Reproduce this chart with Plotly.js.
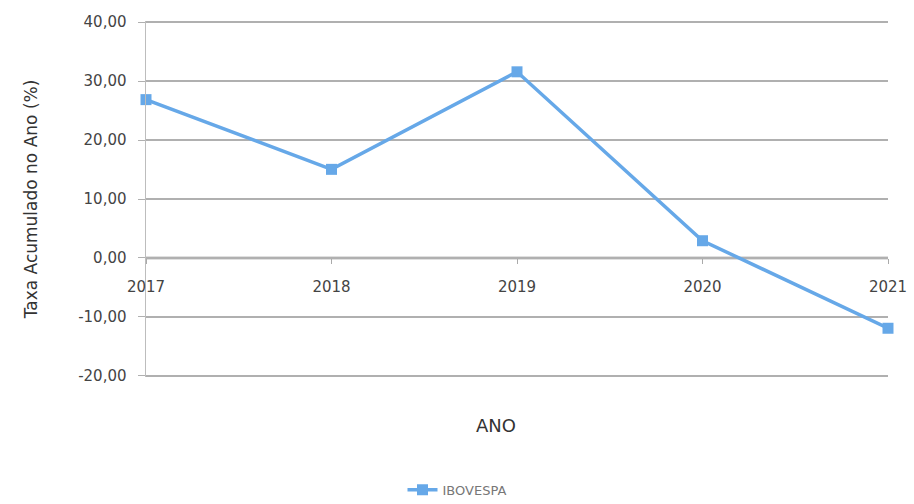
<!DOCTYPE html>
<html>
<head>
<meta charset="utf-8">
<script src="https://cdn.plot.ly/plotly-3.0.1.min.js"></script>
<style>
html,body{margin:0;padding:0;background:#fff;overflow:hidden;}
#chart{width:914px;height:504px;}
</style>
</head>
<body>
<div id="chart"></div>
<script>
const years = ['2017', '2018', '2019', '2020', '2021'];
const ibovespa = [26.86, 15.03, 31.58, 2.92, -11.93];
const yTickVals = [-20, -10, 0, 10, 20, 30, 40];
const yTickText = ['-20,00', '-10,00', '0,00', '10,00', '20,00', '30,00', '40,00'];
const seriesName = 'IBOVESPA';

const yRange = [-20.2, 40.2];
const zeroPos = (0 - yRange[0]) / (yRange[1] - yRange[0]);

const trace = {
  x: years,
  y: ibovespa,
  type: 'scatter',
  mode: 'lines+markers',
  name: seriesName,
  cliponaxis: false,
  line: {color: '#66a8e8', width: 3.5},
  marker: {symbol: 'square', size: 11, color: '#66a8e8'}
};

const layout = {
  width: 914,
  height: 504,
  margin: {l: 146, r: 26, t: 21, b: 127},
  paper_bgcolor: '#ffffff',
  plot_bgcolor: '#ffffff',
  font: {family: 'DejaVu Sans, sans-serif', color: '#444'},
  showlegend: true,
  legend: {
    orientation: 'h',
    xref: 'container', yref: 'container',
    x: 0.5, xanchor: 'center',
    y: 0.028, yanchor: 'middle',
    font: {size: 13, color: '#777'}
  },
  xaxis: {
    type: 'category',
    range: [0, 4],
    anchor: 'free',
    position: zeroPos,
    showgrid: false,
    showline: false,
    zeroline: false,
    ticks: 'outside',
    ticklen: 5,
    tickcolor: '#aaa',
    ticklabelstandoff: 10,
    tickfont: {size: 15, color: '#444'},
    fixedrange: true
  },
  yaxis: {
    range: yRange,
    tickvals: yTickVals,
    ticktext: yTickText,
    showgrid: true,
    gridcolor: '#b0b0b0',
    gridwidth: 1.5,
    zeroline: false,
    showline: true,
    linecolor: '#bdbdbd',
    linewidth: 1.5,
    ticks: 'outside',
    ticklen: 7,
    tickcolor: '#b0b0b0',
    ticklabelstandoff: 8,
    tickfont: {size: 15, color: '#444'},
    title: {text: 'Taxa Acumulado no Ano (%)', font: {size: 17, color: '#333'}, standoff: 36},
    fixedrange: true
  },
  shapes: [{
    type: 'line', layer: 'below',
    xref: 'paper', x0: 0, x1: 1,
    yref: 'y', y0: 0, y1: 0,
    line: {color: '#858585', width: 2.5}
  }],
  annotations: [{
    text: 'ANO', xref: 'paper', yref: 'paper',
    x: 0.472, y: -0.136, xanchor: 'center', yanchor: 'middle',
    showarrow: false, font: {size: 18, color: '#333'}
  }]
};

Plotly.newPlot('chart', [trace], layout, {displayModeBar: false, staticPlot: true});
</script>
</body>
</html>
